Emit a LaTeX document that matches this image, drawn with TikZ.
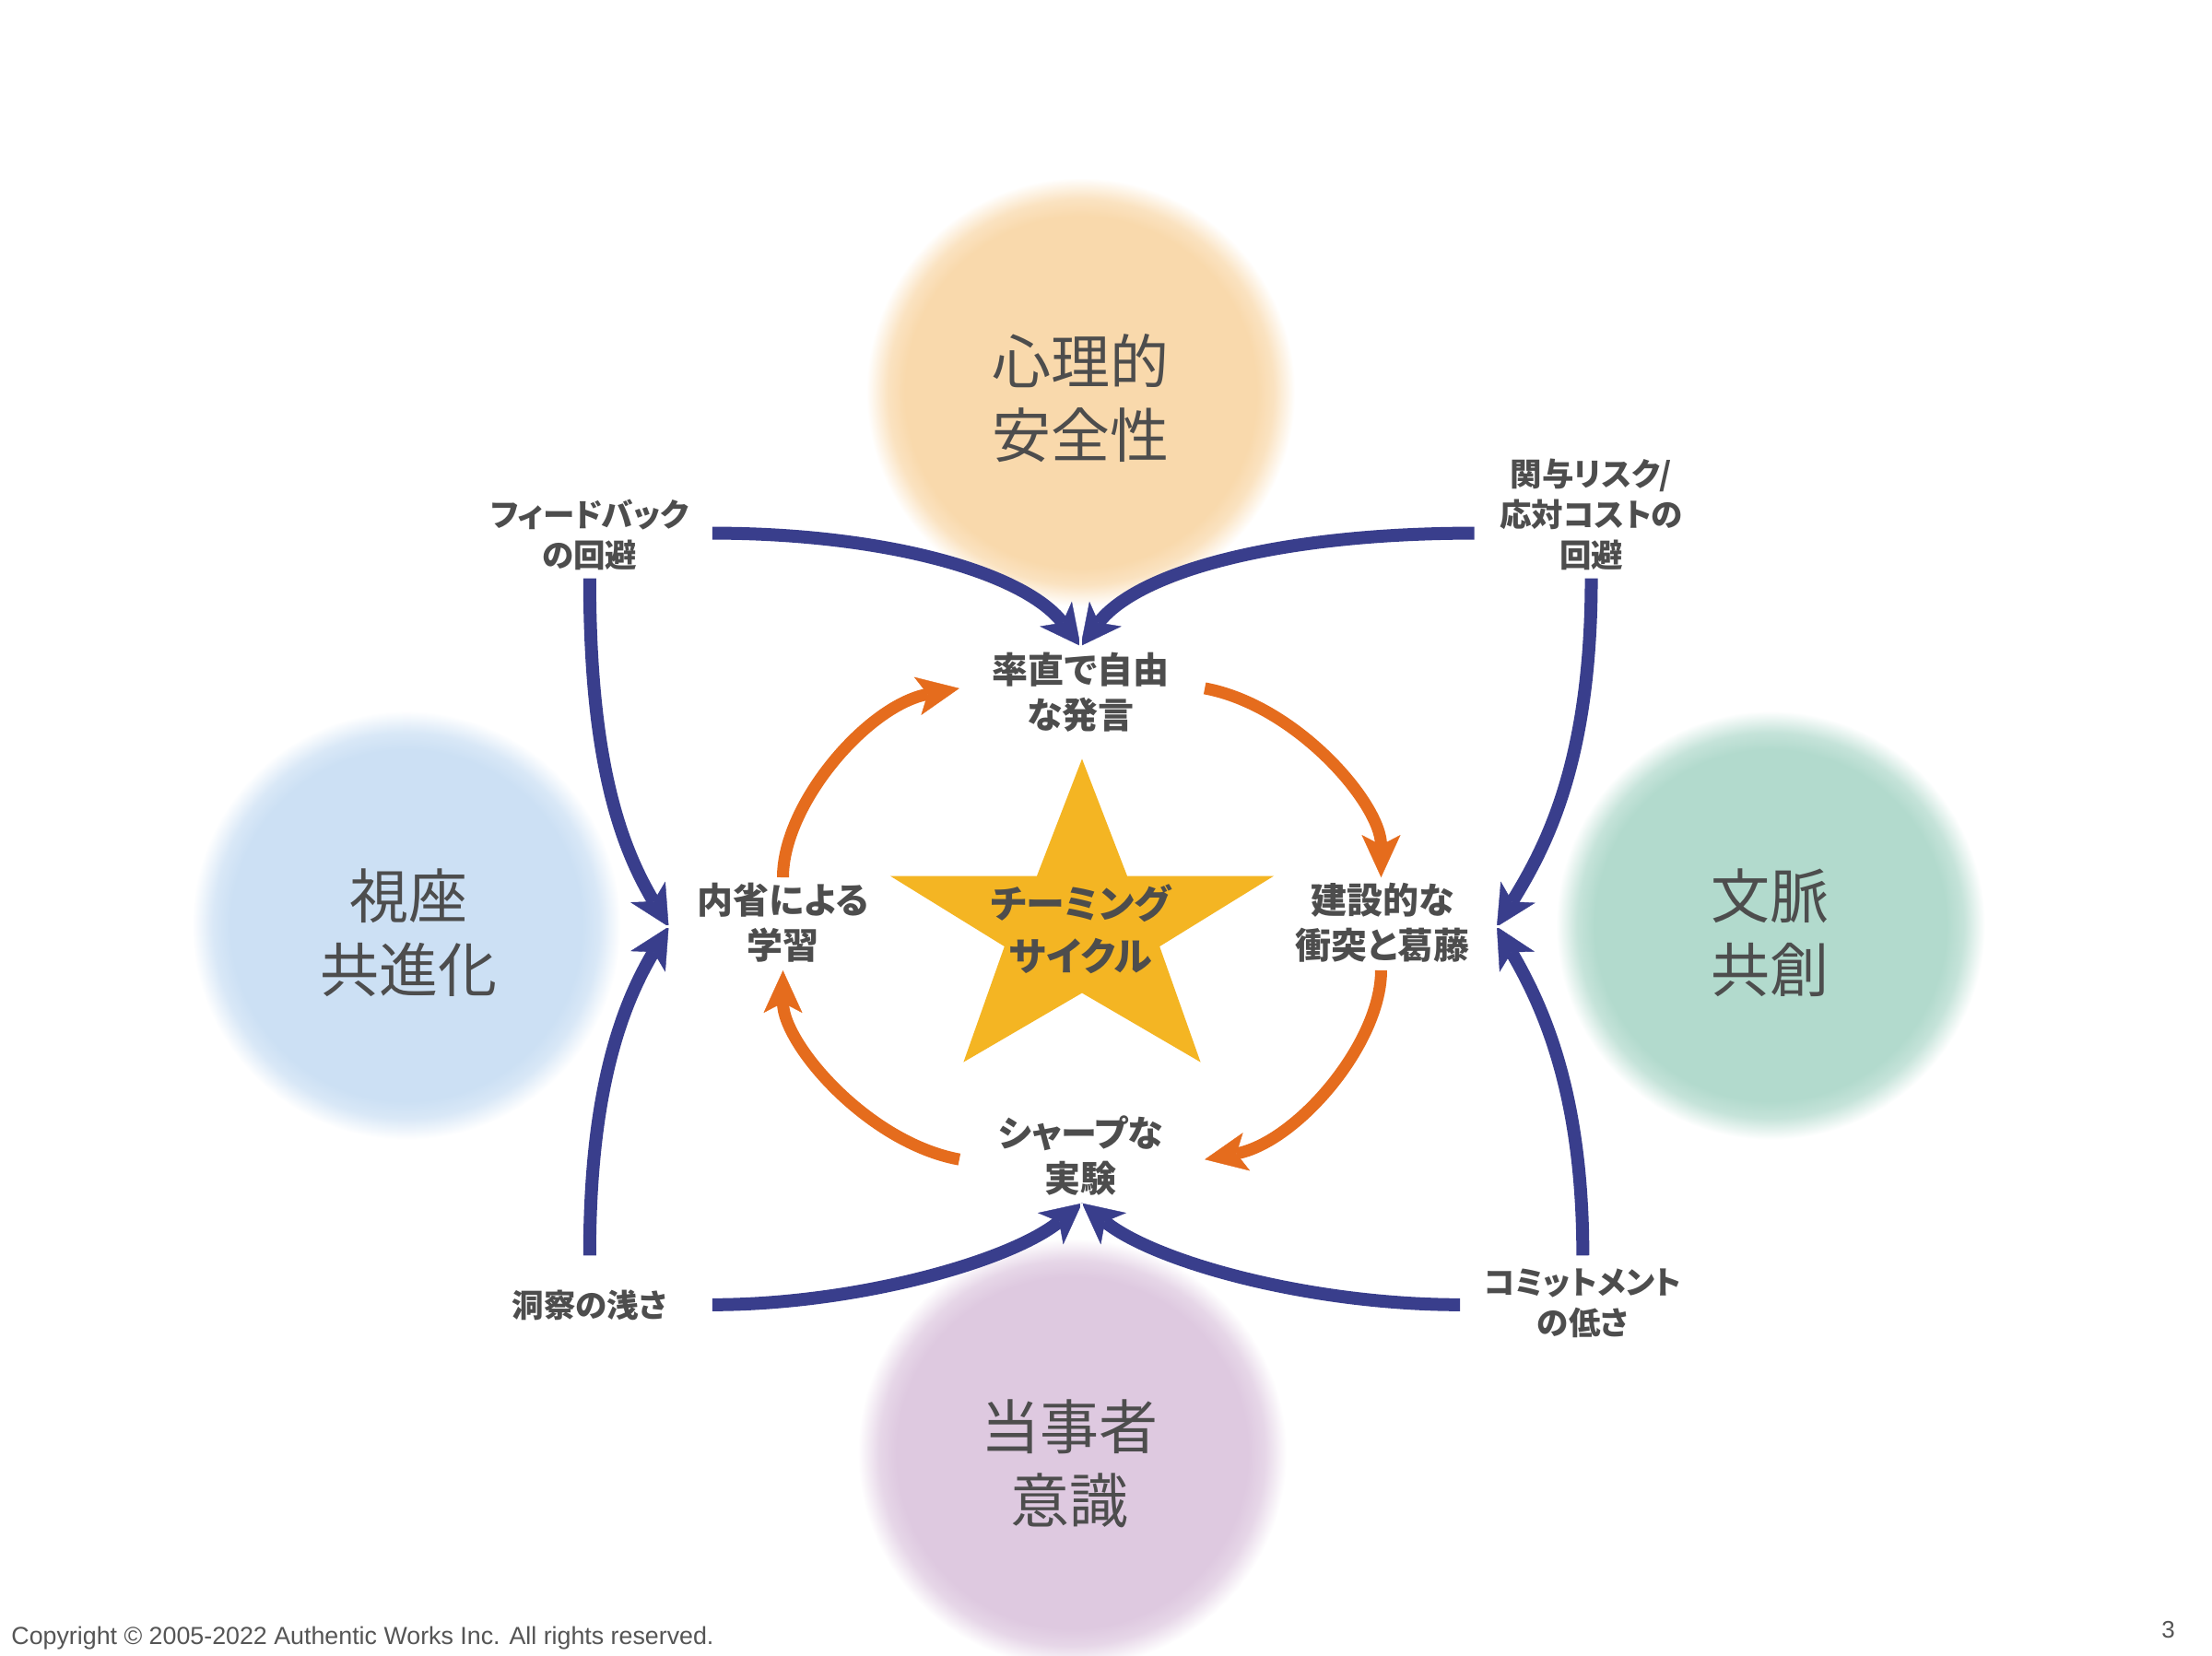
\documentclass[tikz,border=0pt]{standalone}
\usepackage{fontspec}
\setmainfont{Liberation Sans}
\newfontfamily\jp{Noto Sans CJK JP}
\newfontfamily\jpp{Noto Sans CJK JP}[RawFeature=+palt]
\usetikzlibrary{arrows.meta}
\definecolor{cpeach}{HTML}{F9D9AC}
\definecolor{cblue}{HTML}{CCE0F4}
\definecolor{cgreen}{HTML}{B2DACD}
\definecolor{cpurple}{HTML}{DEC9E0}
\definecolor{cstar}{HTML}{F4B523}
\definecolor{cnavy}{HTML}{393E8C}
\definecolor{corng}{HTML}{E56C1D}
\definecolor{ctext}{HTML}{4D4D4D}
\definecolor{cfoot}{HTML}{555555}
\newcommand\mkglow[2]{\pgfdeclareradialshading{#1}{\pgfpoint{0bp}{0bp}}{color(0bp)=(#2); color(20.5bp)=(#2); color(22.5bp)=(#2!75!white); color(24bp)=(#2!30!white); color(25bp)=(white); color(50bp)=(white)}}
\mkglow{glowpeach}{cpeach}
\mkglow{glowblue}{cblue}
\mkglow{glowgreen}{cgreen}
\mkglow{glowpurple}{cpurple}
\begin{document}
\begin{tikzpicture}[x=1.5306pt,y=-1.5306pt,
  ctitle/.style={font=\jp\fontsize{64}{80}\selectfont, text=ctext, align=center, inner sep=0pt},
  ilabel/.style={font=\jpp\bfseries\fontsize{39}{49}\selectfont, text=ctext, align=center, inner sep=0pt},
  olabel/.style={font=\jpp\bfseries\fontsize{34.5}{44}\selectfont, text=ctext, align=center, inner sep=0pt},
  startxt/.style={font=\jpp\bfseries\fontsize{42}{57}\selectfont, text=ctext, align=center, inner sep=0pt},
  navyarr/.style={draw=cnavy, line width=14pt, -{Stealth[length=44pt,width=44pt,inset=12pt,line width=0.4pt 0]}},
  orarr/.style={draw=corng, line width=13pt, -{Stealth[length=46pt,width=42pt,inset=11pt,line width=0.4pt 0]}},
  gap/.style={draw=white, line width=3pt}
]
\fill[white] (0,0) rectangle (1568,1174);
\useasboundingbox (0,0) rectangle (1568,1174);

% glowing circles
\shade[shading=glowpeach] (766,278) circle[radius=232.6pt];
\shade[shading=glowblue] (288,656) circle[radius=232.6pt];
\shade[shading=glowgreen] (1255,656) circle[radius=232.6pt];
\shade[shading=glowpurple] (760,1030) circle[radius=232.6pt];

\node[ctitle] (ctop) at (766,282) {心理的\\安全性};
\node[ctitle] (cleft) at (290,661) {視座\\共進化};
\node[ctitle] (cright) at (1255,661) {文脈\\共創};
\node[ctitle] (cbot) at (758,1038) {当事者\\意識};

% star
\fill[cstar] (767,538) -- (799,621) -- (903,621) -- (822,671) -- (851,753) -- (767,704)
  -- (683,753) -- (712,671) -- (631,621) -- (735,621) -- cycle;
\node[startxt] (star) at (766,659) {チーミング\\サイクル};

% cycle labels
\node[ilabel] (free) at (766,491) {率直で自由\\な発言};
\node[ilabel] (learn) at (555,654) {内省による\\学習};
\node[ilabel] (conf) at (980,654) {建設的な\\衝突と葛藤};
\node[ilabel] (exp) at (766,819) {シャープな\\実験};

% outer labels
\node[olabel] (fb) at (418,379) {フィードバック\\の回避};
\node[olabel] (risk) at (1128,365) {関与リスク/\\応対コストの\\回避};
\node[olabel] (ins) at (418,925) {洞察の浅さ};
\node[olabel] (com) at (1122,924) {コミットメント\\の低さ};

% connector end points
\coordinate (ptop) at (766,458);
\coordinate (pleft) at (474,657);
\coordinate (pright) at (1061,657);
\coordinate (pbot) at (767,853);
\coordinate (a1s) at (505,378);
\coordinate (a2s) at (1045,378);
\coordinate (a3s) at (418,410);
\coordinate (a4s) at (418,890);
\coordinate (a5s) at (1128,410);
\coordinate (a6s) at (1122,890);
\coordinate (a7s) at (505,925);
\coordinate (a8s) at (1035,925);

% navy arrows
\draw[navyarr] (a1s) .. controls (625,378) and (725,405) .. (ptop);
\draw[navyarr] (a2s) .. controls (907,378) and (807,405) .. (ptop);
\draw[navyarr] (a3s) .. controls (418,540) and (440,600) .. (pleft);
\draw[navyarr] (a4s) .. controls (418,775) and (440,714) .. (pleft);
\draw[navyarr] (a5s) .. controls (1128,540) and (1096,600) .. (pright);
\draw[navyarr] (a6s) .. controls (1122,775) and (1094,714) .. (pright);
\draw[navyarr] (a7s) .. controls (605,925) and (715,895) .. (pbot);
\draw[navyarr] (a8s) .. controls (929,925) and (819,895) .. (pbot);
\draw[gap] (ptop) -- ++(0,-26);
\draw[gap] (pleft) -- ++(-26,0);
\draw[gap] (pright) -- ++(26,0);
\draw[gap] (pbot) -- ++(0,26);

% orange cycle arrows
\coordinate (o1s) at (555,622);
\coordinate (o1e) at (680,488);
\coordinate (o2s) at (854,488);
\coordinate (o2e) at (979,622);
\coordinate (o3s) at (979,688);
\coordinate (o3e) at (854,822);
\coordinate (o4s) at (680,822);
\coordinate (o4e) at (555,688);
\draw[orarr] (o1s) .. controls (555,570) and (615,500) .. (o1e);
\draw[orarr] (o2s) .. controls (919,500) and (979,570) .. (o2e);
\draw[orarr] (o3s) .. controls (979,740) and (919,810) .. (o3e);
\draw[orarr] (o4s) .. controls (615,810) and (555,740) .. (o4e);

% footer
\node[anchor=base west, inner sep=0pt, text=cfoot, font=\fontsize{26.8}{30}\selectfont] (copy) at (8,1166) {Copyright © 2005-2022 Authentic Works Inc. All rights reserved.};
\node[anchor=base, inner sep=0pt, text=cfoot, font=\fontsize{26}{30}\selectfont] (pnum) at (1537,1161) {3};
\end{tikzpicture}
\end{document}
